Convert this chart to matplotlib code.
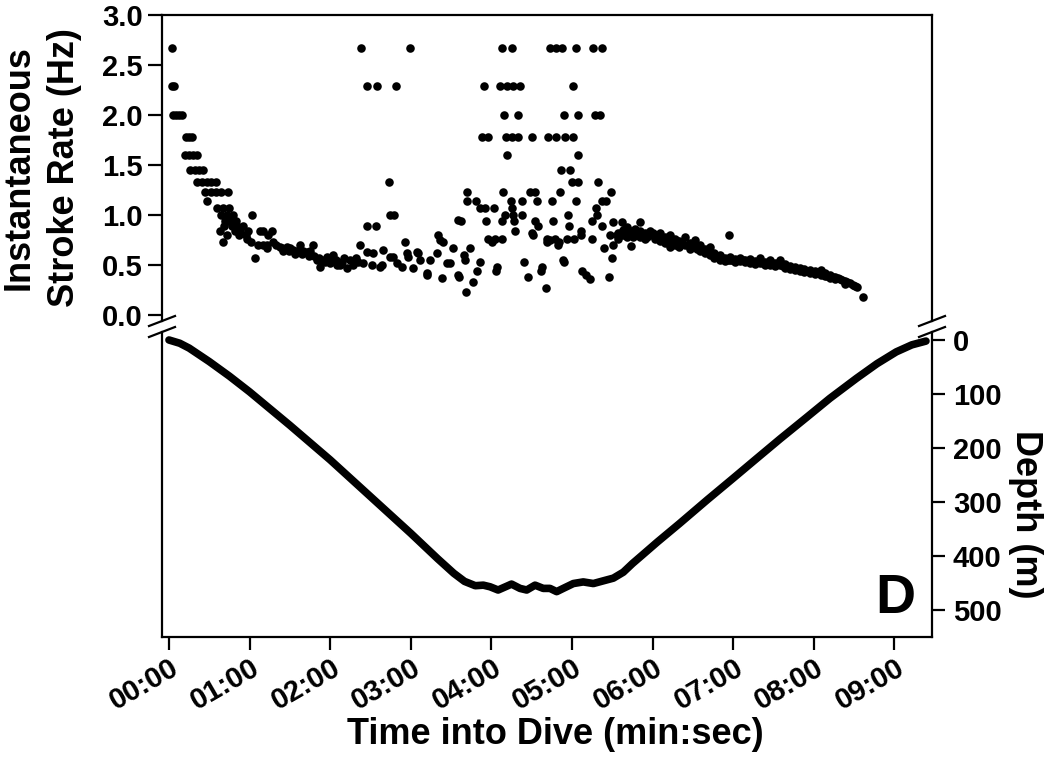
import matplotlib
matplotlib.use("Agg")
import matplotlib.pyplot as plt
from matplotlib.lines import Line2D
import matplotlib.transforms as mtransforms

plt.rcParams['font.family'] = ['Liberation Sans', 'DejaVu Sans']
plt.rcParams['font.weight'] = 'bold'

# ---------------- data (time in seconds into dive) ----------------
# stroke-rate points, early descent
early_time = [2, 2.5, 4, 3, 5, 7.5, 10, 13, 15, 17, 12, 15, 18, 21, 16, 19, 22.5, 25.5,
              21, 24.5, 28, 31.5, 35, 27, 31, 35, 39, 44, 28, 36, 38, 40, 43,
              39, 40, 42, 43, 45, 46, 47, 48, 50, 51, 53, 55, 57, 59, 62,
              41, 44, 49, 52, 58, 61, 64, 66, 70, 73, 68, 70, 74, 77, 73]
early_rate = [2.667, 2.286, 2.286, 2.0, 2.0, 2.0, 2.0, 1.778, 1.778, 1.778, 1.6, 1.6, 1.6, 1.6,
              1.455, 1.455, 1.455, 1.455, 1.333, 1.333, 1.333, 1.333, 1.333,
              1.231, 1.231, 1.231, 1.231, 1.231, 1.143, 1.067, 0.842, 0.727, 0.8,
              1.0, 1.067, 0.941, 1.0, 1.067, 0.941, 0.889, 1.0, 0.941, 0.889, 0.842, 0.889, 0.8, 0.842, 1.0,
              0.889, 0.941, 0.842, 0.8, 0.762, 0.727, 0.571, 0.696, 0.696, 0.696, 0.842, 0.842, 0.8, 0.842, 0.667]

# stroke-rate points, mid descent
mid_time = [77.7, 80, 82.6, 84, 85, 87.6, 89, 90, 92.5, 94, 95, 97.5, 99, 100, 102.5, 104, 105,
            107.4, 108, 110, 112.4, 112, 114, 116, 117.4, 119, 120, 122.3, 124, 125, 127.3, 129,
            130, 132.3, 134.7, 137, 139, 141, 142.2, 144.6, 147.2, 152.1, 157.1, 159.5, 164.5,
            169.5, 175.7, 177, 181.9, 184.4, 186.8, 191.8, 194.3, 199.3, 200.5, 203, 204.2,
            206.7, 211.6, 215.4, 215.4, 185.4, 192, 173.4, 158.6, 151.1, 166.7, 209.2, 178,
            201.7, 147.4, 154, 164.5, 167.5, 163.8, 143, 179.4, 147.4, 155, 169]
mid_rate = [0.733, 0.70, 0.683, 0.667, 0.64, 0.683, 0.64, 0.667, 0.65, 0.615, 0.64, 0.70, 0.615,
            0.64, 0.633, 0.593, 0.64, 0.70, 0.593, 0.55, 0.483, 0.571, 0.552, 0.533, 0.583, 0.552,
            0.516, 0.60, 0.552, 0.5, 0.50, 0.533, 0.571, 0.467, 0.55, 0.5, 0.571, 0.533, 0.70,
            0.517, 0.633, 0.617, 0.483, 0.65, 0.583, 0.517, 0.733, 0.617, 0.467, 0.633, 0.55,
            0.40, 0.55, 0.617, 0.80, 0.367, 0.733, 0.517, 0.667, 0.95, 0.40, 0.62, 0.42, 0.48,
            0.5, 0.5, 0.58, 0.52, 0.58, 0.75, 0.889, 0.889, 1.0, 1.0, 1.333, 2.667, 2.667,
            2.286, 2.286, 2.286]

# stroke-rate points, bottom phase
bottom_time = [248, 255.3, 283.6, 288, 292.6, 303, 315.6, 322.3,
               234.5, 246.4, 251.6, 256, 261.3, 300.7,
               249.4, 259.8, 294, 304.5, 317, 320.8,
               233, 237.5, 250.9, 255.3, 259.8, 270.2, 282, 288, 294.8, 300.7,
               251.6, 304.5, 291.8, 298.5, 300, 304.5, 319.4,
               221.8, 248.6, 268.7, 272.5, 291, 329,
               221.8, 228.5, 254.6, 262.8, 274, 285, 303, 322.3, 325.3,
               231.5, 235.2, 242, 255.3, 317.9,
               250, 256, 262.8, 297, 318.6,
               217.4, 236, 248, 256.8, 272.5, 285.9, 315,
               274.7, 297.8, 322.3, 257.6, 306.7, 270, 271, 307,
               237.5, 242.7, 248, 281.4, 287.3, 296.3, 301.5, 315,
               240.4, 281.4, 290.3, 224, 323.8, 219.6, 329.8, 220.6,
               231.5, 264.3, 294, 244, 229.3, 243.4, 277, 307.4, 310.4, 313.4,
               215.9, 267.2, 327.5, 226.3, 280.6, 221, 277.7, 289.6, 293.3, 283.6]
bottom_rate = [2.667] * 8 + [2.286] * 6 + [2.0] * 6 + [1.778] * 10 + \
              [1.6, 1.6, 1.455, 1.455, 1.333, 1.333, 1.333] + [1.231] * 6 + [1.143] * 9 + \
              [1.067] * 5 + [1.0] * 5 + [0.941] * 7 + \
              [0.889, 0.889, 0.889, 0.842, 0.842, 0.82, 0.8, 0.8] + [0.762] * 8 + \
              [0.727, 0.727, 0.727, 0.667, 0.667, 0.6, 0.571, 0.55] + \
              [0.533, 0.533, 0.533, 0.48, 0.444, 0.444, 0.444, 0.44, 0.40, 0.36] + \
              [0.38, 0.38, 0.38, 0.33, 0.27, 0.23, 0.48, 0.70, 0.55, 0.75]

# stroke-rate points, ascent
ascent_time = [328.3, 330.5, 333.5, 330.5, 337.2,
               334, 334, 338, 338, 341, 341, 344, 344, 347, 347, 350.6, 350.6, 350.6, 354, 354,
               358, 358, 362, 362, 365.5, 365.5, 369, 369, 373, 373, 373, 377, 377, 380, 380,
               384, 384, 388, 388, 391.5, 391.5, 395, 395, 399, 399, 403, 403, 406, 406, 410, 410,
               414, 414, 417, 417.6, 417.6, 421, 421, 425, 425, 429, 429, 432.5, 432.5, 436, 436,
               440, 440, 443.7, 443.7, 447.4, 447.4, 451, 451, 455, 455, 458.5, 458.5, 462, 462,
               466, 466, 470, 470, 473, 473, 477, 477, 481, 481, 485, 485, 488, 488, 492, 492,
               496, 496, 499.5, 503, 503, 507, 510.7, 512, 516.6,
               336, 339.5, 342.5, 345.5, 349, 352, 356, 360, 363.5, 367, 371, 375, 378.5, 382,
               386, 390, 393, 397, 401, 405, 408, 412, 416, 419, 423, 427, 431, 434, 438, 442,
               445.5, 449, 453, 457, 460, 464, 468, 471.5, 475, 479, 483, 486.5, 490, 494, 498,
               501, 505, 509]
ascent_rate = [0.8, 0.7, 0.8, 0.93, 0.93,
               0.82, 0.76, 0.85, 0.80, 0.88, 0.78, 0.69, 0.84, 0.86, 0.80, 0.93, 0.84, 0.78, 0.82,
               0.76, 0.84, 0.80, 0.80, 0.76, 0.82, 0.74, 0.78, 0.72, 0.80, 0.74, 0.68, 0.76, 0.70,
               0.74, 0.68, 0.78, 0.70, 0.72, 0.66, 0.75, 0.68, 0.70, 0.64, 0.66, 0.62, 0.68, 0.60,
               0.62, 0.57, 0.60, 0.55, 0.57, 0.54, 0.80, 0.58, 0.55, 0.56, 0.53, 0.57, 0.54, 0.55,
               0.53, 0.56, 0.52, 0.54, 0.51, 0.57, 0.52, 0.53, 0.50, 0.55, 0.50, 0.52, 0.49, 0.55,
               0.50, 0.51, 0.47, 0.49, 0.46, 0.48, 0.45, 0.47, 0.44, 0.46, 0.43, 0.45, 0.42, 0.44,
               0.41, 0.45, 0.40, 0.42, 0.39, 0.40, 0.37, 0.38, 0.36, 0.36, 0.34, 0.31, 0.32, 0.29,
               0.28, 0.18,
               0.80, 0.86, 0.82, 0.78, 0.82, 0.80, 0.78, 0.82, 0.78, 0.76, 0.76, 0.72, 0.74, 0.72,
               0.70, 0.70, 0.66, 0.66, 0.64, 0.60, 0.58, 0.57, 0.55, 0.55, 0.55, 0.55, 0.54, 0.53,
               0.53, 0.52, 0.52, 0.51, 0.51, 0.49, 0.48, 0.47, 0.46, 0.45, 0.44, 0.43, 0.42, 0.41,
               0.39, 0.38, 0.37, 0.35, 0.33, 0.30]

# depth profile
depth_time = [0, 8, 15, 30, 45, 60, 90, 120, 150, 180, 200, 212, 220, 228,
              234, 239, 245, 251.4, 255, 261.3, 266.3, 272.5, 278.6, 283.6, 288.6,
              293.5, 301, 308.4, 315.9, 323.3, 330.8, 338.2, 345, 352, 363.6, 380, 400.7, 420,
              437.7, 455, 474.8, 492, 511.8, 527, 541.4, 553, 563.5]
depth_m = [0, 6, 15, 40, 67, 96, 158, 222, 290, 358, 405, 432, 447, 455,
           454, 457, 463, 456, 452, 460, 463, 454, 460, 460, 466,
           460, 451, 448, 451, 446, 441, 430, 414, 399, 374, 340, 296, 256,
           219, 183, 143, 108, 71, 44, 22, 9, 2]

rate_ticks = [0.0, 0.5, 1.0, 1.5, 2.0, 2.5, 3.0]
depth_ticks = [0, 100, 200, 300, 400, 500]
time_ticks = [0, 60, 120, 180, 240, 300, 360, 420, 480, 540]
time_labels = ["00:00", "01:00", "02:00", "03:00", "04:00", "05:00",
               "06:00", "07:00", "08:00", "09:00"]

# ---------------- figure ----------------
W, H = 1050, 763
fig = plt.figure(figsize=(W / 100, H / 100), dpi=100)
L, R = 162, 932
t1, b1 = 15, 321
t2, b2 = 332, 637
ax1 = fig.add_axes([L / W, 1 - b1 / H, (R - L) / W, (b1 - t1) / H])
ax2 = fig.add_axes([L / W, 1 - b2 / H, (R - L) / W, (b2 - t2) / H])

xlim = (-5.2, 568)
lw_sp = 1.6
tick_fs = 21
lab_fs = 26

# upper panel
for tt, rr in [(early_time, early_rate), (mid_time, mid_rate),
               (bottom_time, bottom_rate), (ascent_time, ascent_rate)]:
    ax1.scatter(tt, rr, s=38, color='black', linewidths=0, zorder=3)
ax1.set_xlim(*xlim)
ax1.set_ylim(-0.06, 3.0)
ax1.set_yticks(rate_ticks)
ax1.set_yticklabels([f"{v:.1f}" for v in rate_ticks])
ax1.spines['bottom'].set_visible(False)
for s in ['top', 'left', 'right']:
    ax1.spines[s].set_linewidth(lw_sp)
ax1.tick_params(axis='x', bottom=False, labelbottom=False)
ax1.tick_params(axis='y', left=True, right=False, direction='out', length=10, width=lw_sp,
                labelsize=tick_fs, pad=4)
ax1.set_ylabel("Instantaneous\nStroke Rate (Hz)", fontsize=lab_fs, fontweight='bold',
               linespacing=1.38)
ax1.yaxis.set_label_coords(-0.104, 0.5)

# lower panel
ax2.plot(depth_time, depth_m, color='black', lw=5.5, solid_capstyle='round',
         solid_joinstyle='round', zorder=3)
ax2.set_xlim(*xlim)
ax2.set_ylim(550, -14.8)
ax2.spines['top'].set_visible(False)
for s in ['bottom', 'left', 'right']:
    ax2.spines[s].set_linewidth(lw_sp)
ax2.yaxis.tick_right()
ax2.set_yticks(depth_ticks)
ax2.set_yticklabels([str(v) for v in depth_ticks])
ax2.tick_params(axis='y', left=False, right=True, direction='out', length=9, width=lw_sp,
                labelsize=tick_fs, pad=6)
ax2.set_xticks(time_ticks)
ax2.set_xticklabels(time_labels)
ax2.tick_params(axis='x', direction='out', length=9, width=lw_sp, labelsize=tick_fs, pad=3)
offset = mtransforms.ScaledTranslation(1 / 100, 0, fig.dpi_scale_trans)
for lab in ax2.get_xticklabels():
    lab.set_rotation(30)
    lab.set_ha('right')
    lab.set_va('top')
    lab.set_rotation_mode('anchor')
    lab.set_transform(lab.get_transform() + offset)

ax2.text(0.978, 0.078, "D", transform=ax2.transAxes, ha='right', va='baseline',
         fontsize=40, fontweight='bold')

fig.text(555 / W, 1 - 734 / H, "Time into Dive (min:sec)", ha='center', va='center',
         fontsize=lab_fs, fontweight='bold')
fig.text(1025 / W, 1 - 514 / H, "Depth (m)", ha='center', va='center', rotation=270,
         fontsize=lab_fs, fontweight='bold')

# axis-break slashes
def slash(xc, yc):
    dx, dy = 13, 5
    fig.add_artist(Line2D([(xc - dx) / W, (xc + dx) / W],
                          [1 - (yc + dy) / H, 1 - (yc - dy) / H],
                          transform=fig.transFigure, color='black', lw=lw_sp))

for xc in (L, R):
    slash(xc, b1)
    slash(xc, t2)

fig.savefig("out.png", dpi=100)
